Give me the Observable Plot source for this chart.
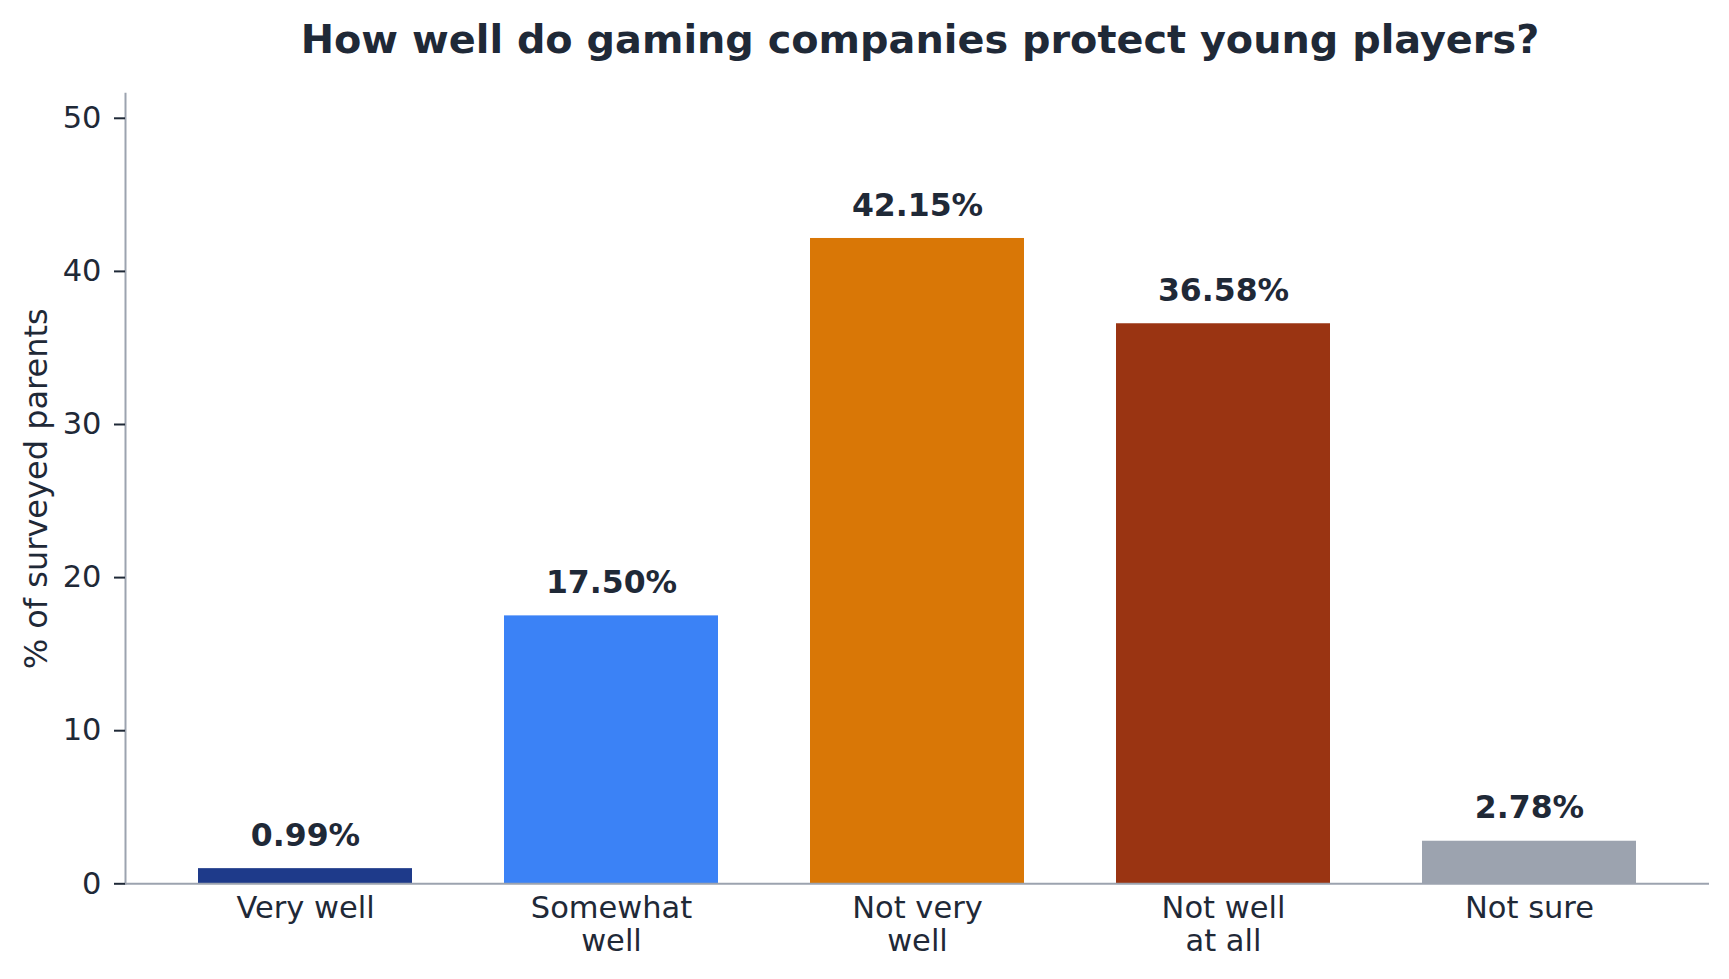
<!DOCTYPE html>
<html><head><meta charset="utf-8">
<script src="https://cdn.jsdelivr.net/npm/d3@7"></script>
<script src="https://cdn.jsdelivr.net/npm/@observablehq/plot@0.6"></script>
<style>
body{margin:0;background:#fff;font-family:"DejaVu Sans";}
#title{height:72px;box-sizing:border-box;padding-top:19px;padding-left:111px;text-align:center;font:bold 39.8px/40px "DejaVu Sans";color:#1f2937;margin:0;white-space:nowrap;}
</style></head><body>
<div id="title">How well do gaming companies protect young players?</div>
<div id="chart"></div>
<script>
const categories = ["Very well", "Somewhat well", "Not very well", "Not well at all", "Not sure"];
const tickLabels = ["Very well", "Somewhat\nwell", "Not very\nwell", "Not well\nat all", "Not sure"];
const values = [0.99, 17.50, 42.15, 36.58, 2.78];
const barColors = ["#1e3a8a", "#3b82f6", "#d97706", "#9a3412", "#9ca3af"];
const yTicks = [0, 10, 20, 30, 40, 50];
const yMax = 51.6;
const yLabel = "% of surveyed parents";

const data = categories.map((c, i) => ({category: c, value: values[i]}));

const plot = Plot.plot({
  width: 1729, height: 907,
  marginLeft: 125, marginRight: 20, marginTop: 21.3, marginBottom: 95.7,
  style: {fontFamily: "DejaVu Sans", fontSize: "30.5px", color: "#1f2937", background: "#fff", overflow: "visible"},
  x: {domain: categories, paddingInner: 0.3, paddingOuter: 0.235},
  y: {domain: [0, yMax]},
  color: {domain: categories, range: barColors},
  marks: [
    Plot.barY(data, {x: "category", y: "value", fill: "category"}),
    Plot.ruleY([0], {stroke: "#9ca3af", strokeWidth: 2}),
    Plot.frame({anchor: "left", stroke: "#9ca3af", strokeWidth: 2}),
    Plot.text(data, {x: "category", y: "value", text: d => d.value.toFixed(2) + "%", dy: -33, fontWeight: "bold", fontSize: 31.5, fill: "#1f2937"}),
    Plot.axisX({tickSize: 0, tickPadding: 11, tickFormat: c => tickLabels[categories.indexOf(c)], fontSize: 30.5, lineHeight: 1.08, label: null}),
    Plot.axisY({ticks: yTicks, tickSize: 11, tickPadding: 13, strokeWidth: 2, fontSize: 30.5, label: null}),
    Plot.text([yLabel], {frameAnchor: "left", textAnchor: "middle", rotate: -90, dx: -89, fontSize: 32, fill: "#1f2937"})
  ]
});
document.getElementById("chart").appendChild(plot);
</script></body></html>
